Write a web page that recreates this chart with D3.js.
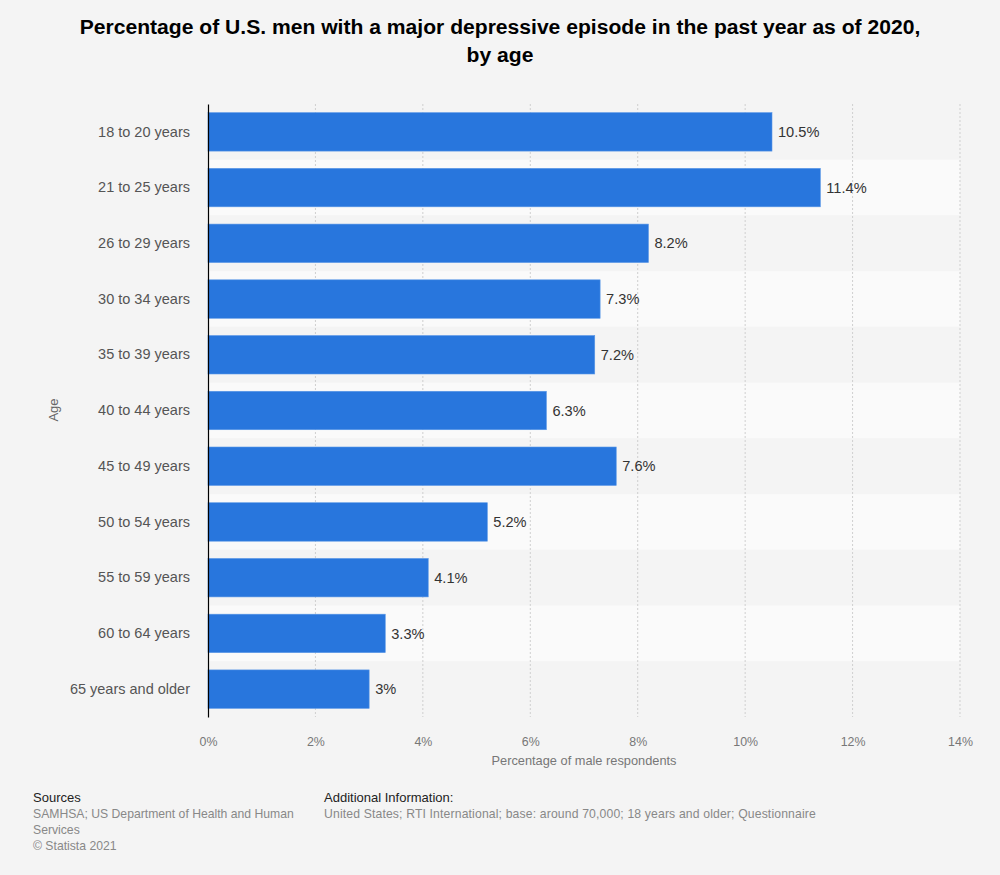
<!DOCTYPE html>
<html>
<head>
<meta charset="utf-8">
<script src="https://cdn.jsdelivr.net/npm/d3@7"></script>
<style>
  html, body { margin: 0; padding: 0; background: #f4f4f4; }
  svg { display: block; font-family: "Liberation Sans", Arial, sans-serif; }
</style>
</head>
<body>
<svg id="chart" width="1000" height="875"></svg>
<script>
const categories = ["18 to 20 years", "21 to 25 years", "26 to 29 years", "30 to 34 years", "35 to 39 years", "40 to 44 years", "45 to 49 years", "50 to 54 years", "55 to 59 years", "60 to 64 years", "65 years and older"];
const values = [10.5, 11.4, 8.2, 7.3, 7.2, 6.3, 7.6, 5.2, 4.1, 3.3, 3];
const valueLabels = ["10.5%", "11.4%", "8.2%", "7.3%", "7.2%", "6.3%", "7.6%", "5.2%", "4.1%", "3.3%", "3%"];
const xTicks = [0, 2, 4, 6, 8, 10, 12, 14];

const svg = d3.select("#chart");
const W = 1000, H = 875;
const m = { left: 208, right: 40, top: 104, bottom: 158 };
const x = d3.scaleLinear().domain([0, 14]).range([m.left, W - m.right]);
const y = d3.scaleBand().domain(categories).range([m.top, H - m.bottom]).paddingInner(0.31).paddingOuter(0.155);

svg.append("rect").attr("width", W).attr("height", H).attr("fill", "#f4f4f4");

// Title
const title = svg.append("text").attr("x", 500).attr("text-anchor", "middle")
  .attr("font-size", 21.1).attr("font-weight", "bold").attr("fill", "#000");
title.append("tspan").attr("x", 500).attr("y", 34).text("Percentage of U.S. men with a major depressive episode in the past year as of 2020,");
title.append("tspan").attr("x", 500).attr("y", 62).text("by age");

// Alternating row bands
const step = y.step();
svg.append("g").selectAll("rect").data(categories).join("rect")
  .attr("x", x(0)).attr("width", x(14) - x(0))
  .attr("y", d => y(d) - (step - y.bandwidth()) / 2)
  .attr("height", step)
  .attr("fill", (d, i) => i % 2 === 1 ? "#fafafa" : "#f4f4f4");

// Gridlines
svg.append("g").selectAll("line").data(xTicks.filter(t => t > 0)).join("line")
  .attr("x1", d => x(d)).attr("x2", d => x(d))
  .attr("y1", m.top).attr("y2", H - m.bottom)
  .attr("stroke", "#cfcfcf").attr("stroke-width", 1).attr("stroke-dasharray", "2,2");

// Bars
svg.append("g").selectAll("rect").data(values).join("rect")
  .attr("x", x(0)).attr("y", (d, i) => y(categories[i]))
  .attr("width", d => x(d) - x(0)).attr("height", y.bandwidth())
  .attr("fill", "#2876dd").attr("stroke", "#5a97e6").attr("stroke-width", 0.6);

// Value labels
svg.append("g").selectAll("text").data(values).join("text")
  .attr("x", d => x(d) + 6).attr("y", (d, i) => y(categories[i]) + y.bandwidth() / 2)
  .attr("dy", "0.35em").attr("font-size", 14.6).attr("fill", "#333")
  .text((d, i) => valueLabels[i]);

// Y axis
const yAxis = svg.append("g").attr("transform", `translate(${m.left},0)`)
  .call(d3.axisLeft(y).tickSize(0).tickPadding(18));
yAxis.select(".domain").attr("stroke", "#000").attr("stroke-width", 1.2);
yAxis.selectAll("text").attr("font-size", 14.5).attr("fill", "#555").attr("font-family", "Liberation Sans, Arial, sans-serif");

// X axis
const xAxis = svg.append("g").attr("transform", `translate(0,${H - m.bottom})`)
  .call(d3.axisBottom(x).tickValues(xTicks).tickFormat(d => d + "%").tickSize(0).tickPadding(20));
xAxis.select(".domain").remove();
xAxis.selectAll("text").attr("font-size", 12.4).attr("fill", "#777").attr("font-family", "Liberation Sans, Arial, sans-serif");

// Axis titles
svg.append("text").attr("x", (x(0) + x(14)) / 2).attr("y", 765).attr("text-anchor", "middle")
  .attr("font-size", 12.8).attr("fill", "#777").text("Percentage of male respondents");
svg.append("text").attr("transform", "translate(58,410) rotate(-90)").attr("text-anchor", "middle")
  .attr("font-size", 13).attr("fill", "#666").text("Age");

// Footer
const foot = svg.append("g");
foot.append("text").attr("x", 33).attr("y", 802).attr("fill", "#222").attr("font-size", 13).text("Sources");
foot.append("text").attr("x", 33).attr("y", 818).attr("fill", "#888").attr("font-size", 12.2).text("SAMHSA; US Department of Health and Human");
foot.append("text").attr("x", 33).attr("y", 834).attr("fill", "#888").attr("font-size", 12.2).text("Services");
foot.append("text").attr("x", 33).attr("y", 850).attr("fill", "#888").attr("font-size", 12.2).text("© Statista 2021");
foot.append("text").attr("x", 324).attr("y", 802).attr("fill", "#222").attr("font-size", 13).text("Additional Information:");
foot.append("text").attr("x", 324).attr("y", 818).attr("fill", "#888").attr("font-size", 12.2).attr("letter-spacing", 0.15).text("United States; RTI International; base: around 70,000; 18 years and older; Questionnaire");
</script>
</body>
</html>
